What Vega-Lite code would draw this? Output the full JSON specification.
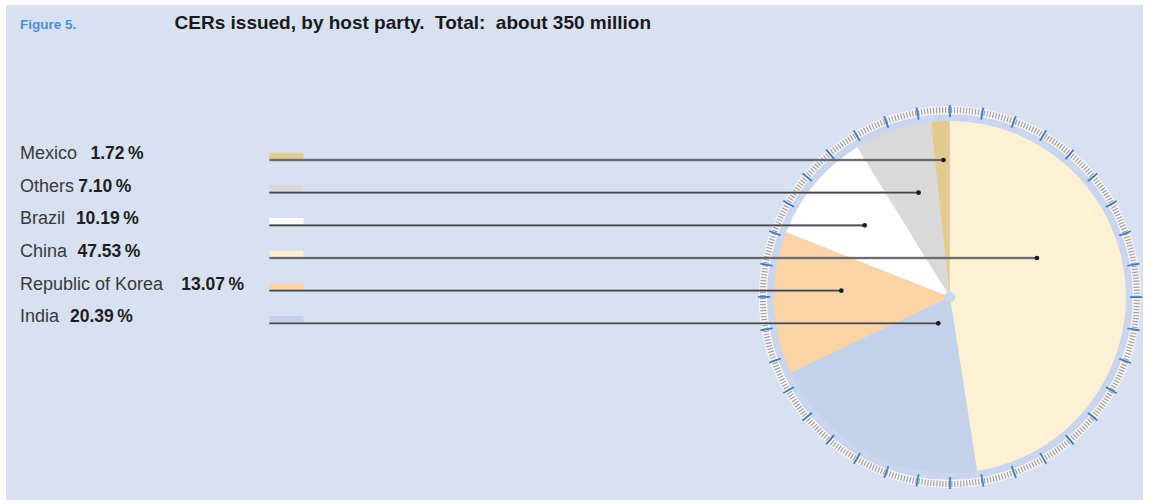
{
  "$schema": "https://vega.github.io/schema/vega-lite/v6.json",
  "width": 1154,
  "height": 504,
  "autosize": {"type": "fit", "contains": "padding"},
  "padding": {"left": 6, "top": 5, "right": 4, "bottom": 4},
  "background": "#ffffff",
  "config": {"view": {"stroke": null, "fill": "#d8e1f1"}, "font": "Liberation Sans"},
  "datasets": {
    "parties": [
      {"party": "Mexico", "share": 1.72, "shareLabel": "1.72\u2009%", "row": 1, "pieOrder": 6, "leaderEnd": -3.6, "shareLabelX": -489.4},
      {"party": "Others", "share": 7.10, "shareLabel": "7.10\u2009%", "row": 2, "pieOrder": 5, "leaderEnd": -17.8, "shareLabelX": -496.4},
      {"party": "Brazil", "share": 10.19, "shareLabel": "10.19\u2009%", "row": 3, "pieOrder": 4, "leaderEnd": -48.5, "shareLabelX": -497.7},
      {"party": "China", "share": 47.53, "shareLabel": "47.53\u2009%", "row": 4, "pieOrder": 1, "leaderEnd": 49.6, "shareLabelX": -496.8},
      {"party": "Republic of Korea", "share": 13.07, "shareLabel": "13.07\u2009%", "row": 5, "pieOrder": 3, "leaderEnd": -61.8, "shareLabelX": -437.7},
      {"party": "India", "share": 20.39, "shareLabel": "20.39\u2009%", "row": 6, "pieOrder": 2, "leaderEnd": -6.6, "shareLabelX": -501.1}
    ],
    "ticks": [
      {"deg": 0}, {"deg": 10}, {"deg": 20}, {"deg": 30}, {"deg": 40}, {"deg": 50},
      {"deg": 60}, {"deg": 70}, {"deg": 80}, {"deg": 90}, {"deg": 100}, {"deg": 110},
      {"deg": 120}, {"deg": 130}, {"deg": 140}, {"deg": 150}, {"deg": 160}, {"deg": 170},
      {"deg": 180}, {"deg": 190}, {"deg": 200}, {"deg": 210}, {"deg": 220}, {"deg": 230},
      {"deg": 240}, {"deg": 250}, {"deg": 260}, {"deg": 270}, {"deg": 280}, {"deg": 290},
      {"deg": 300}, {"deg": 310}, {"deg": 320}, {"deg": 330}, {"deg": 340}, {"deg": 350}
    ]
  },
  "resolve": {"scale": {"y": "independent"}},
  "layer": [
    {
      "resolve": {"scale": {"theta": "independent"}},
      "layer": [
        {
          "data": {"values": [{}]},
          "mark": {"type": "point", "shape": "circle", "filled": true, "size": 133956, "color": "#c9d6ee", "opacity": 1},
          "encoding": {
            "x": {"datum": 0, "type": "quantitative", "scale": {"domain": [-537.5, 110], "nice": false, "zero": false}, "axis": null},
            "y": {"datum": 0, "type": "quantitative", "scale": {"domain": [-115.34, 165.91], "nice": false, "zero": false}, "axis": null}
          }
        },
        {
          "data": {"name": "parties"},
          "mark": {"type": "arc", "outerRadius": 176},
          "encoding": {
            "theta": {"field": "share", "type": "quantitative", "stack": true},
            "order": {"field": "pieOrder", "type": "quantitative"},
            "color": {"field": "party", "type": "nominal", "legend": null,
              "scale": {"domain": ["Mexico", "Others", "Brazil", "China", "Republic of Korea", "India"],
                        "range": ["#e3cb8e", "#d9d9d9", "#ffffff", "#fdf1d5", "#fbd4a6", "#c2d2ea"]}},
            "x": {"datum": 0, "type": "quantitative", "axis": null},
            "y": {"datum": 0, "type": "quantitative", "axis": null}
          }
        },
        {
          "data": {"values": [{}]},
          "mark": {"type": "point", "shape": "circle", "filled": false, "size": 139876, "stroke": "#f6f6f6", "strokeWidth": 8, "opacity": 1},
          "encoding": {
            "x": {"datum": 0, "type": "quantitative", "axis": null},
            "y": {"datum": 0, "type": "quantitative", "axis": null}
          }
        },
        {
          "data": {"values": [{}]},
          "mark": {"type": "point", "shape": "circle", "filled": false, "size": 139876, "stroke": "#a3a3a3", "strokeWidth": 6, "strokeDash": [1.2, 1.8], "opacity": 1},
          "encoding": {
            "x": {"datum": 0, "type": "quantitative", "axis": null},
            "y": {"datum": 0, "type": "quantitative", "axis": null}
          }
        },
        {
          "data": {"name": "ticks"},
          "mark": {"type": "text", "text": "|", "fontSize": 13, "fontWeight": "bold", "color": "#3a7bc2", "align": "center", "baseline": "middle"},
          "encoding": {
            "theta": {"field": "deg", "type": "quantitative", "scale": {"domain": [0, 360]}},
            "radius": {"value": 187},
            "angle": {"field": "deg", "type": "quantitative", "scale": {"domain": [0, 360], "range": [0, 360]}},
            "x": {"datum": 0, "type": "quantitative", "axis": null},
            "y": {"datum": 0, "type": "quantitative", "axis": null}
          }
        },
        {
          "data": {"values": [{}]},
          "mark": {"type": "point", "shape": "circle", "filled": true, "size": 120, "color": "#c9d8f0", "opacity": 1},
          "encoding": {
            "x": {"datum": 0, "type": "quantitative", "axis": null},
            "y": {"datum": 0, "type": "quantitative", "axis": null}
          }
        },
        {
          "data": {"values": [{}]},
          "mark": {"type": "text", "text": "Figure 5.", "fontSize": 13.5, "fontWeight": "bold", "color": "#4a8fd6", "align": "left", "baseline": "alphabetic"},
          "encoding": {
            "x": {"datum": -529.5, "type": "quantitative", "axis": null},
            "y": {"datum": 152.3, "type": "quantitative", "axis": null}
          }
        },
        {
          "data": {"values": [{}]},
          "mark": {"type": "text", "text": "CERs issued, by host party.\u00a0 Total:\u00a0 about 350 million", "fontSize": 19, "fontWeight": "bold", "color": "#1a1a1a", "align": "left", "baseline": "alphabetic"},
          "encoding": {
            "x": {"datum": -441.5, "type": "quantitative", "axis": null},
            "y": {"datum": 152.3, "type": "quantitative", "axis": null}
          }
        }
      ]
    },
    {
      "data": {"name": "parties"},
      "layer": [
        {
          "mark": {"type": "point", "shape": "M-1,-0.194H1V0.194H-1Z", "filled": true, "size": 1156, "opacity": 1, "yOffset": -4},
          "encoding": {
            "x": {"datum": -377.8, "type": "quantitative", "axis": null},
            "y": {"field": "row", "type": "quantitative", "scale": {"domain": [-3.746, 11.41], "reverse": true, "nice": false, "zero": false}, "axis": null},
            "color": {"field": "party", "type": "nominal", "legend": null}
          }
        },
        {
          "mark": {"type": "rule", "strokeWidth": 2.6, "color": "#8d929c", "opacity": 0.85},
          "encoding": {
            "x": {"field": "leaderEnd", "type": "quantitative", "axis": null},
            "x2": {"datum": -387.5},
            "y": {"field": "row", "type": "quantitative", "axis": null}
          }
        },
        {
          "mark": {"type": "rule", "strokeWidth": 0.9, "color": "#2a2a2a"},
          "encoding": {
            "x": {"field": "leaderEnd", "type": "quantitative", "axis": null},
            "x2": {"datum": -387.5},
            "y": {"field": "row", "type": "quantitative", "axis": null}
          }
        },
        {
          "mark": {"type": "point", "filled": true, "color": "#1a1a1a", "size": 22, "opacity": 1},
          "encoding": {
            "x": {"field": "leaderEnd", "type": "quantitative", "axis": null},
            "y": {"field": "row", "type": "quantitative", "axis": null}
          }
        },
        {
          "mark": {"type": "text", "fontSize": 18, "color": "#3a3a3a", "align": "left", "baseline": "alphabetic", "dy": -1},
          "encoding": {
            "x": {"datum": -529.5, "type": "quantitative", "axis": null},
            "y": {"field": "row", "type": "quantitative", "axis": null},
            "text": {"field": "party", "type": "nominal"}
          }
        },
        {
          "mark": {"type": "text", "fontSize": 17.5, "fontWeight": "bold", "color": "#1e1e1e", "align": "left", "baseline": "alphabetic", "dy": -1},
          "encoding": {
            "x": {"field": "shareLabelX", "type": "quantitative", "axis": null},
            "y": {"field": "row", "type": "quantitative", "axis": null},
            "text": {"field": "shareLabel", "type": "nominal"}
          }
        }
      ]
    }
  ]
}
